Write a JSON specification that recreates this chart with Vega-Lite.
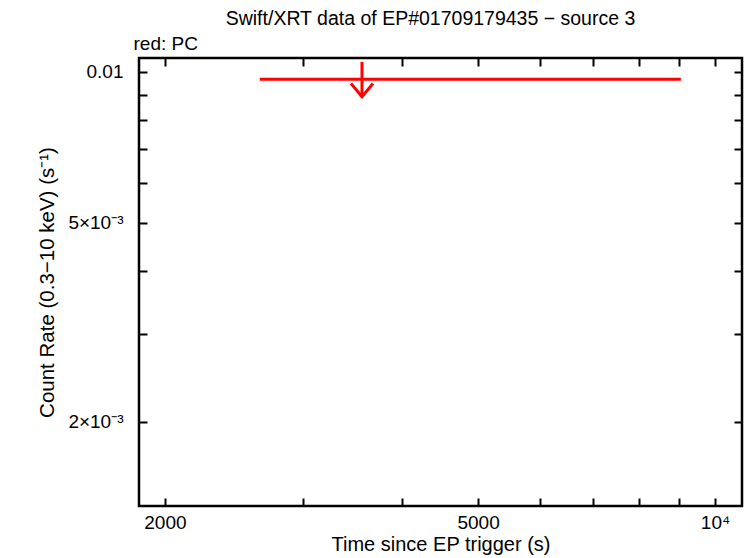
{
  "$schema": "https://vega.github.io/schema/vega-lite/v6.json",
  "width": 603,
  "height": 448,
  "autosize": {"type": "none"},
  "padding": {"left": 139, "top": 58, "right": 4, "bottom": 52},
  "background": "white",
  "title": {
    "text": "Swift/XRT data of EP#01709179435 − source 3",
    "font": "Liberation Sans",
    "fontSize": 19.5,
    "fontWeight": "normal",
    "color": "black",
    "anchor": "middle",
    "dx": -10,
    "offset": 5
  },
  "config": {
    "view": {"stroke": "black", "strokeWidth": 2.5},
    "axis": {
      "grid": false,
      "domain": false,
      "ticks": true,
      "tickColor": "black",
      "tickWidth": 2,
      "tickSize": -8,
      "labelFont": "Liberation Sans",
      "labelFontSize": 19,
      "labelColor": "black",
      "titleFont": "Liberation Sans",
      "titleFontSize": 20,
      "titleFontWeight": "normal",
      "titleColor": "black"
    }
  },
  "data": {
    "values": [
      {"time": 3560, "tstart": 2640, "tstop": 9050, "rate": 0.00967, "arrow_top": 0.01047, "arrow_tip": 0.00892}
    ]
  },
  "resolve": {"scale": {"x": "independent", "y": "independent"}},
  "layer": [
    {
      "mark": {"type": "rule", "color": "#ff0000", "strokeWidth": 3},
      "encoding": {
        "x": {
          "field": "tstart", "type": "quantitative",
          "scale": {"type": "log", "domain": [1854, 10822], "nice": false},
          "axis": {
            "orient": "bottom",
            "values": [2000, 3000, 4000, 5000, 6000, 7000, 8000, 9000, 10000],
            "labelExpr": "datum.value == 2000 ? '2000' : datum.value == 5000 ? '5000' : datum.value == 10000 ? '10⁴' : ''",
            "labelPadding": 15,
            "labelFlush": false,
            "labelOverlap": false,
            "title": "Time since EP trigger (s)",
            "titlePadding": 2
          }
        },
        "x2": {"field": "tstop"},
        "y": {
          "field": "rate", "type": "quantitative",
          "scale": {"type": "log", "domain": [0.001359, 0.01066], "nice": false},
          "axis": {
            "orient": "left",
            "values": [0.01, 0.009, 0.008, 0.007, 0.006, 0.005, 0.004, 0.003, 0.002],
            "labelExpr": "abs(datum.value - 0.01) < 1e-9 ? '0.01' : abs(datum.value - 0.005) < 1e-9 ? '5×10⁻³' : abs(datum.value - 0.002) < 1e-9 ? '2×10⁻³' : ''",
            "labelPadding": 24,
            "labelOverlap": false,
            "labelFlush": false,
            "title": "Count Rate (0.3−10 keV) (s⁻¹)",
            "titleFontSize": 20.5,
            "titleX": -92,
            "titleBaseline": "middle"
          }
        }
      }
    },
    {
      "mark": {"type": "rule", "color": "#ff0000", "strokeWidth": 3},
      "encoding": {
        "x": {"field": "time", "type": "quantitative", "scale": {"type": "log", "domain": [1854, 10822], "nice": false}, "axis": null},
        "y": {"field": "arrow_top", "type": "quantitative", "scale": {"type": "log", "domain": [0.001359, 0.01066], "nice": false}, "axis": null},
        "y2": {"field": "arrow_tip"}
      }
    },
    {
      "mark": {"type": "point", "shape": "M-1,-1.2L0,0L1,-1.2", "filled": false, "stroke": "#ff0000", "strokeWidth": 3, "size": 484, "opacity": 1},
      "encoding": {
        "x": {"field": "time", "type": "quantitative", "scale": {"type": "log", "domain": [1854, 10822], "nice": false}, "axis": null},
        "y": {"field": "arrow_tip", "type": "quantitative", "scale": {"type": "log", "domain": [0.001359, 0.01066], "nice": false}, "axis": null}
      }
    },
    {
      "mark": {"type": "point", "opacity": 0},
      "encoding": {
        "x": {
          "field": "time", "type": "quantitative",
          "scale": {"type": "log", "domain": [1854, 10822], "nice": false},
          "axis": {
            "orient": "top",
            "values": [2000, 3000, 4000, 5000, 6000, 7000, 8000, 9000, 10000],
            "labels": false,
            "title": "red: PC",
            "titleFontSize": 19,
            "titleAnchor": "start",
            "titleAlign": "left",
            "titleBaseline": "alphabetic",
            "titleX": -6,
            "titleY": -9
          }
        },
        "y": {
          "field": "rate", "type": "quantitative",
          "scale": {"type": "log", "domain": [0.001359, 0.01066], "nice": false},
          "axis": {
            "orient": "right",
            "values": [0.01, 0.009, 0.008, 0.007, 0.006, 0.005, 0.004, 0.003, 0.002],
            "labels": false,
            "title": null
          }
        }
      }
    }
  ]
}
